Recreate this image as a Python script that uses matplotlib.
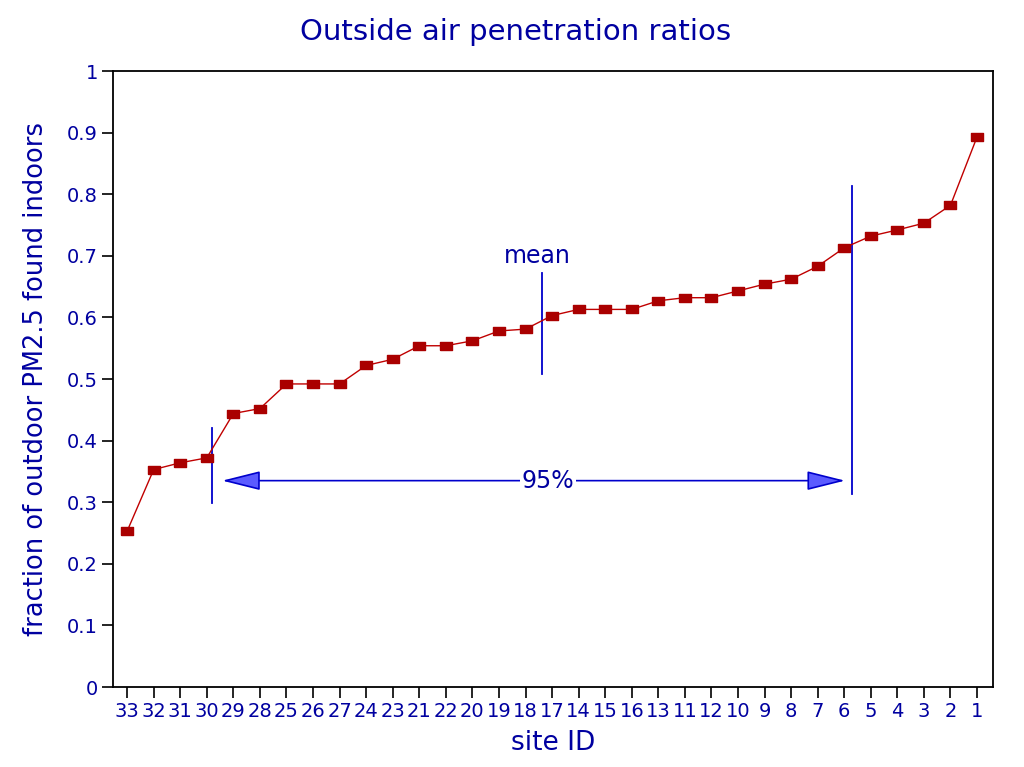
import matplotlib
matplotlib.use("Agg")
import matplotlib.pyplot as plt

plt.rcParams['font.family'] = ['DejaVu Sans']

# site IDs in plotted order and their penetration ratios
site_ids = ['33', '32', '31', '30', '29', '28', '25', '26', '27', '24', '23',
            '21', '22', '20', '19', '18', '17', '14', '15', '16', '13', '11',
            '12', '10', '9', '8', '7', '6', '5', '4', '3', '2', '1']
ratios = [0.253, 0.353, 0.364, 0.372, 0.444, 0.452, 0.492, 0.492, 0.492,
          0.522, 0.532, 0.554, 0.554, 0.562, 0.578, 0.581, 0.603, 0.613,
          0.613, 0.613, 0.627, 0.632, 0.632, 0.643, 0.654, 0.662, 0.683,
          0.713, 0.732, 0.742, 0.753, 0.782, 0.893]

TXT = '#0000a0'
BLUE = '#0000cc'

fig = plt.figure(figsize=(10.24, 7.67), dpi=100)
ax = fig.add_axes([0.1104, 0.1043, 0.8593, 0.8031])

x = list(range(len(ratios)))
rect = [(-1, -0.67), (1, -0.67), (1, 0.67), (-1, 0.67), (-1, -0.67)]
ax.plot(x, ratios, color='#c00000', lw=1.0, marker=rect, markersize=9,
        markerfacecolor='#aa0000', markeredgecolor='#aa0000', zorder=3)

# 95% interval and mean markers
ax.plot([3.2, 3.2], [0.298, 0.421], color=BLUE, lw=1.3)
ax.plot([27.31, 27.31], [0.314, 0.813], color=BLUE, lw=1.3)
ax.plot([15.61, 15.61], [0.508, 0.672], color=BLUE, lw=1.3)
ax.text(15.45, 0.70, 'mean', color=TXT, fontsize=17, ha='center', va='center')

arrow_y = 0.335
for tip in (3.58, 27.03):
    ax.annotate('', xy=(tip, arrow_y), xytext=(15.85, arrow_y),
                arrowprops=dict(arrowstyle='-|>,head_length=1.2,head_width=0.3',
                                fc='#5b5bff', ec=BLUE, lw=1.2,
                                shrinkA=0, shrinkB=0, mutation_scale=20))
ax.text(15.85, arrow_y, '95%', color=TXT, fontsize=17, ha='center', va='center',
        bbox=dict(fc='white', ec='none', pad=1))

ax.set_xlim(-0.53, 32.6)
ax.set_ylim(0, 1)
ax.set_xticks(x)
ax.set_xticklabels(site_ids)
ax.set_yticks([i / 10 for i in range(11)])
ax.set_yticklabels(['0'] + ['0.%d' % i for i in range(1, 10)] + ['1'])
ax.tick_params(axis='both', direction='out', length=8, width=1.2,
               colors='black', labelcolor=TXT, labelsize=14)
ax.tick_params(axis='x', pad=3)
ax.tick_params(axis='y', pad=3)
for s in ax.spines.values():
    s.set_linewidth(1.3)

ax.set_xlabel('site ID', color=TXT, fontsize=19, labelpad=6)
ax.set_ylabel('fraction of outdoor PM2.5 found indoors', color=TXT,
              fontsize=18.5, labelpad=13)
fig.text(0.503, 0.958, 'Outside air penetration ratios', color=TXT,
         fontsize=21, ha='center', va='center')

fig.savefig('out.png', dpi=100)
